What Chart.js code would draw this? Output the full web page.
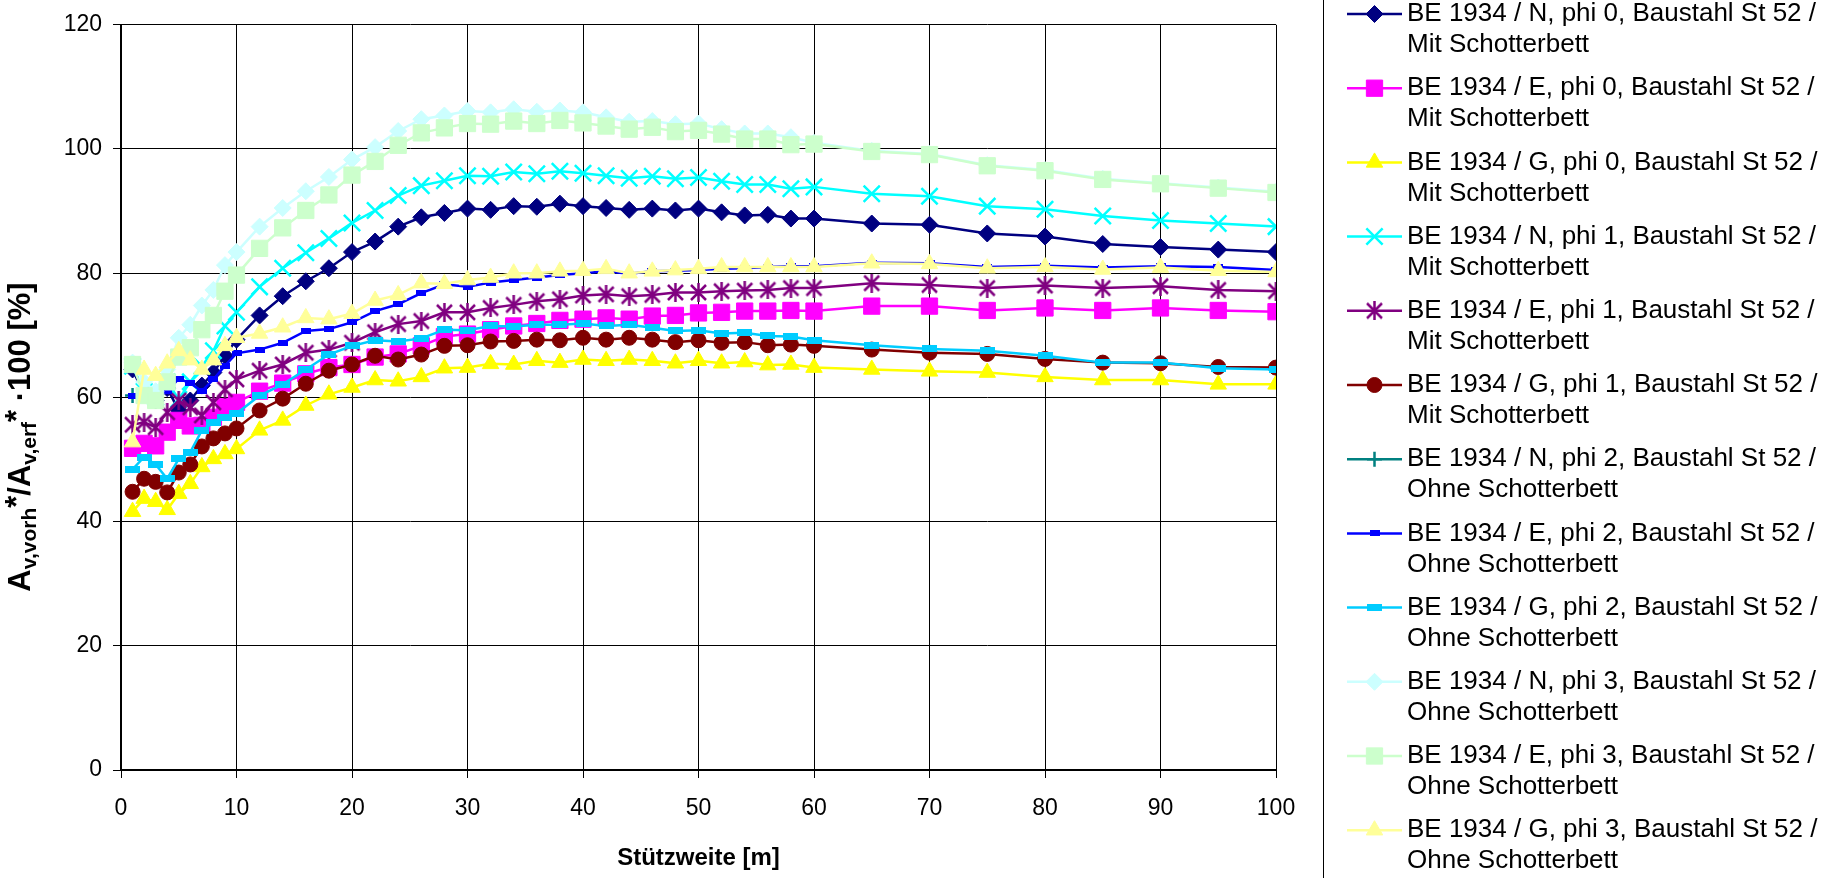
<!DOCTYPE html>
<html>
<head>
<meta charset="utf-8">
<title>BE 1934 - Baustahl St 52</title>
<script src="https://cdn.jsdelivr.net/npm/chart.js@4.4.1/dist/chart.umd.min.js"></script>
<style>
    html, body { margin: 0; padding: 0; background: #ffffff; }
    canvas { display: block; }
</style>
</head>
<body>
<canvas id="myChart" width="1841" height="878"></canvas>
<script>
/** Stützweite [m] */
var spans = [1, 2, 3, 4, 5, 6, 7, 8, 9, 10, 12, 14, 16, 18, 20, 22, 24, 26, 28, 30, 32, 34, 36, 38, 40, 42, 44, 46, 48, 50, 52, 54, 56, 58, 60, 65, 70, 75, 80, 85, 90, 95, 100];

/** values in % per series */
var nPhi0 = [64.5, 60.5, 59.5, 61.5, 57.9, 59.5, 61.9, 64.0, 66.7, 69.3, 73.2, 76.3, 78.7, 80.8, 83.4, 85.1, 87.5, 89.0, 89.7, 90.4, 90.2, 90.8, 90.7, 91.2, 90.8, 90.5, 90.2, 90.4, 90.1, 90.4, 89.8, 89.3, 89.4, 88.8, 88.8, 88.0, 87.8, 86.4, 85.9, 84.7, 84.2, 83.8, 83.4];
var ePhi0 = [51.8, 52.6, 52.2, 54.4, 56.3, 55.4, 55.5, 56.8, 58.5, 59.2, 61.0, 62.3, 63.8, 64.8, 65.3, 66.5, 67.0, 68.3, 69.8, 70.2, 70.9, 71.5, 71.9, 72.4, 72.6, 72.8, 72.6, 73.1, 73.2, 73.6, 73.7, 73.9, 73.9, 74.0, 73.9, 74.7, 74.7, 74.0, 74.4, 74.0, 74.4, 74.0, 73.8];
var gPhi0 = [41.6, 43.7, 43.2, 41.9, 44.5, 46.1, 48.8, 50.1, 50.9, 51.7, 54.7, 56.3, 58.7, 60.5, 61.6, 62.8, 62.6, 63.3, 64.7, 64.8, 65.4, 65.3, 65.9, 65.6, 66.1, 65.9, 66.1, 65.9, 65.5, 65.9, 65.5, 65.7, 65.2, 65.3, 64.8, 64.5, 64.2, 64.0, 63.3, 62.8, 62.8, 62.1, 62.1];
var nPhi1 = [65.0, 61.0, 60.0, 62.5, 59.7, 62.5, 65.0, 67.5, 71.5, 73.7, 77.8, 80.8, 83.3, 85.6, 88.1, 90.1, 92.5, 94.1, 94.9, 95.7, 95.6, 96.3, 96.0, 96.4, 96.1, 95.7, 95.3, 95.6, 95.2, 95.4, 94.8, 94.3, 94.3, 93.6, 93.9, 92.8, 92.4, 90.8, 90.3, 89.2, 88.5, 88.0, 87.5];
var ePhi1 = [55.6, 56.0, 55.2, 57.6, 59.5, 58.4, 57.1, 59.2, 61.3, 62.9, 64.3, 65.3, 67.2, 67.7, 68.8, 70.5, 71.8, 72.3, 73.7, 73.7, 74.4, 74.9, 75.5, 75.8, 76.4, 76.6, 76.3, 76.5, 76.9, 76.9, 77.1, 77.2, 77.3, 77.6, 77.6, 78.4, 78.1, 77.6, 78.0, 77.6, 77.9, 77.3, 77.1];
var gPhi1 = [44.8, 46.9, 46.4, 44.7, 47.9, 49.2, 52.1, 53.4, 54.2, 55.0, 57.9, 59.8, 62.2, 64.3, 65.3, 66.7, 66.1, 66.9, 68.3, 68.4, 69.0, 69.1, 69.3, 69.2, 69.6, 69.3, 69.6, 69.3, 68.9, 69.2, 68.8, 68.9, 68.4, 68.5, 68.3, 67.7, 67.2, 67.0, 66.2, 65.6, 65.5, 64.9, 64.8];
var nPhi2 = [60.3];
var ePhi2 = [60.3, 60.3, 59.8, 61.0, 63.0, 62.3, 61.0, 62.9, 65.1, 67.1, 67.7, 68.8, 70.7, 71.0, 72.1, 73.9, 75.0, 76.8, 78.2, 77.8, 78.5, 78.9, 79.3, 79.7, 80.0, 80.3, 79.9, 80.3, 80.4, 80.5, 80.7, 80.8, 81.0, 81.1, 81.1, 81.7, 81.6, 81.0, 81.2, 80.9, 81.1, 81.0, 80.5];
var gPhi2 = [48.4, 50.4, 49.2, 46.9, 50.1, 51.2, 54.7, 55.9, 56.7, 57.4, 60.3, 62.1, 64.5, 66.9, 68.3, 69.2, 69.0, 69.5, 70.9, 70.8, 71.5, 71.4, 71.7, 71.7, 71.9, 71.5, 71.7, 71.2, 70.7, 70.8, 70.3, 70.4, 69.9, 69.8, 69.2, 68.4, 67.8, 67.5, 66.7, 65.6, 65.6, 64.7, 64.5];
var nPhi3 = [65.6, 62.5, 61.0, 64.5, 69.6, 71.7, 74.8, 77.3, 81.3, 83.4, 87.5, 90.5, 93.2, 95.5, 98.3, 100.3, 102.9, 104.8, 105.4, 106.1, 105.9, 106.4, 106.0, 106.2, 105.9, 105.1, 104.4, 104.5, 104.0, 104.1, 103.2, 102.5, 102.5, 101.9, 101.0, 99.7, 99.2, 97.4, 96.6, 95.2, 94.5, 93.8, 93.1];
var ePhi3 = [65.3, 60.3, 59.5, 62.5, 66.5, 68.0, 70.9, 73.2, 77.1, 79.7, 84.0, 87.3, 90.1, 92.6, 95.8, 98.0, 100.6, 102.6, 103.4, 104.1, 104.0, 104.5, 104.1, 104.6, 104.2, 103.7, 103.2, 103.5, 102.8, 103.0, 102.4, 101.6, 101.6, 100.7, 100.8, 99.6, 99.1, 97.3, 96.5, 95.1, 94.4, 93.7, 93.0];
var gPhi3 = [52.8, 64.5, 63.5, 65.5, 67.5, 66.0, 64.5, 66.0, 68.3, 69.6, 70.3, 71.3, 72.8, 72.6, 73.5, 75.6, 76.5, 78.4, 78.3, 78.9, 79.3, 80.0, 80.0, 80.3, 80.4, 80.7, 80.0, 80.3, 80.5, 80.7, 81.0, 81.0, 81.0, 81.0, 81.0, 81.6, 81.5, 80.8, 81.0, 80.6, 80.9, 80.4, 80.2];

var seriesNames = [
    "BE 1934 / N, phi 0, Baustahl St 52 / Mit Schotterbett",
    "BE 1934 / E, phi 0, Baustahl St 52 / Mit Schotterbett",
    "BE 1934 / G, phi 0, Baustahl St 52 / Mit Schotterbett",
    "BE 1934 / N, phi 1, Baustahl St 52 / Mit Schotterbett",
    "BE 1934 / E, phi 1, Baustahl St 52 / Mit Schotterbett",
    "BE 1934 / G, phi 1, Baustahl St 52 / Mit Schotterbett",
    "BE 1934 / N, phi 2, Baustahl St 52 / Ohne Schotterbett",
    "BE 1934 / E, phi 2, Baustahl St 52 / Ohne Schotterbett",
    "BE 1934 / G, phi 2, Baustahl St 52 / Ohne Schotterbett",
    "BE 1934 / N, phi 3, Baustahl St 52 / Ohne Schotterbett",
    "BE 1934 / E, phi 3, Baustahl St 52 / Ohne Schotterbett",
    "BE 1934 / G, phi 3, Baustahl St 52 / Ohne Schotterbett"
];
var seriesValues = [nPhi0, ePhi0, gPhi0, nPhi1, ePhi1, gPhi1, nPhi2, ePhi2, gPhi2, nPhi3, ePhi3, gPhi3];

var xTicks = [0, 10, 20, 30, 40, 50, 60, 70, 80, 90, 100];
var yTicks = [0, 20, 40, 60, 80, 100, 120];

var FONT = "'Liberation Sans', Arial, sans-serif";

// small canvases for markers chart.js does not have
function starMarker(color) {
    var c = document.createElement("canvas");
    c.width = 19;
    c.height = 19;
    var g = c.getContext("2d");
    g.strokeStyle = color;
    g.lineWidth = 2.5;
    g.beginPath();
    g.moveTo(2, 2);
    g.lineTo(17, 17);
    g.moveTo(17, 2);
    g.lineTo(2, 17);
    g.moveTo(9.5, 0);
    g.lineTo(9.5, 19);
    g.stroke();
    return c;
}
function barMarker(color, w, h) {
    var c = document.createElement("canvas");
    c.width = w;
    c.height = h;
    var g = c.getContext("2d");
    g.fillStyle = color;
    g.fillRect(0, 0, w, h);
    return c;
}

var markers = [
    { color: "#000080", style: "rectRot", r: 8.5, bw: 1 },
    { color: "#FF00FF", style: "rect", r: 11.5, bw: 1 },
    { color: "#FFFF00", style: "triangle", r: 9.5, bw: 1 },
    { color: "#00FFFF", style: "crossRot", r: 11.5, bw: 2.5 },
    { color: "#800080", style: starMarker("#800080"), r: 9, bw: 1 },
    { color: "#800000", style: "circle", r: 7.5, bw: 1 },
    { color: "#008080", style: "cross", r: 7.5, bw: 2.5 },
    { color: "#0000FF", style: barMarker("#0000FF", 10, 6), r: 5, bw: 1 },
    { color: "#00CCFF", style: barMarker("#00CCFF", 15, 7), r: 7, bw: 1 },
    { color: "#CCFFFF", style: "rectRot", r: 8.5, bw: 1 },
    { color: "#CCFFCC", style: "rect", r: 11.5, bw: 1 },
    { color: "#FFFF99", style: "triangle", r: 9.5, bw: 1 }
];

var $each = function (arr, fn) { for (var i = 0; i < arr.length; i++) fn(i, arr[i]); };

var datasets = [];
$each(seriesValues, function (k, vals) {
    var pts = [];
    $each(spans, function (i, x) {
        if (vals[i] !== undefined && vals[i] !== null) pts.push({ x: x, y: vals[i] });
    });
    var m = markers[k];
    datasets.push({
        label: seriesNames[k],
        data: pts,
        borderColor: m.color,
        backgroundColor: m.color,
        borderWidth: 2.5,
        pointStyle: m.style,
        pointRadius: m.r,
        pointBorderWidth: m.bw,
        pointBorderColor: m.color,
        pointBackgroundColor: m.color,
        tension: 0,
        order: seriesValues.length - k // later series on top, like excel
    });
});

/** y axis title with sub- and superscripts */
function drawYTitle(ctx) {
    var F = 31, S = 21;
    var parts = [
        ["A", F, 0], ["v,vorh", S, 6], ["*", F, -3],
        ["/A", F, 0], ["v,erf", S, 6], ["*", F, -3],
        [" \u00b7100 [%]", F, 0]
    ];
    var total = 0;
    $each(parts, function (i, p) {
        ctx.font = "bold " + p[1] + "px " + FONT;
        p.push(ctx.measureText(p[0]).width);
        total += p[3];
    });
    ctx.save();
    ctx.translate(30, 437);
    ctx.rotate(-Math.PI / 2);
    ctx.fillStyle = "#000";
    ctx.textBaseline = "alphabetic";
    var x = -total / 2;
    $each(parts, function (i, p) {
        ctx.font = "bold " + p[1] + "px " + FONT;
        ctx.fillText(p[0], x, p[2]);
        x += p[3];
    });
    ctx.restore();
}

/** legend on the right side, two lines per entry */
var sideLegend = {
    id: "sideLegend",
    afterDraw: function (chart) {
        var ctx = chart.ctx;
        ctx.save();
        ctx.strokeStyle = "#000";
        ctx.lineWidth = 1;
        ctx.beginPath();
        ctx.moveTo(1323.5, 0);
        ctx.lineTo(1323.5, 878);
        ctx.stroke();

        ctx.font = "26px " + FONT;
        ctx.textBaseline = "middle";
        $each(seriesNames, function (i, name) {
            var y = 14 + i * 74.2;
            var m = markers[i];
            ctx.strokeStyle = m.color;
            ctx.lineWidth = 2.5;
            ctx.beginPath();
            ctx.moveTo(1347, y);
            ctx.lineTo(1402, y);
            ctx.stroke();
            ctx.fillStyle = m.color;
            ctx.lineWidth = m.bw;
            Chart.helpers.drawPoint(ctx, { pointStyle: m.style, radius: m.r, rotation: 0, borderWidth: m.bw }, 1374.5, y);
            var cut = name.lastIndexOf(" / ");
            ctx.fillStyle = "#000";
            ctx.fillText(name.substring(0, cut + 2), 1407, y);
            ctx.fillText(name.substring(cut + 3), 1407, y + 31);
        });
        ctx.restore();
        drawYTitle(ctx);
    }
};

var ctx = document.getElementById("myChart");
var myChart = new Chart(ctx, {
    type: "line",
    data: { datasets: datasets },
    plugins: [sideLegend],
    options: {
        responsive: false,
        animation: false,
        devicePixelRatio: 1,
        layout: { padding: { top: 20, right: 565, bottom: 0, left: 0 } },
        plugins: { legend: { display: false }, tooltip: { enabled: false } },
        scales: {
            x: {
                type: "linear",
                min: 0,
                max: 100,
                afterBuildTicks: function (s) { s.ticks = xTicks.map(function (v) { return { value: v }; }); },
                afterFit: function (s) { s.height = 108; },
                ticks: { color: "#000", font: { family: FONT, size: 23 }, padding: 17, maxRotation: 0 },
                grid: { color: "#000", lineWidth: 1, tickLength: 8 },
                border: { color: "#000", width: 2 },
                title: { display: true, text: "Stützweite [m]", color: "#000", font: { family: FONT, size: 24, weight: "bold" }, padding: { top: 0, bottom: 5 } }
            },
            y: {
                min: 0,
                max: 120,
                afterBuildTicks: function (s) { s.ticks = yTicks.map(function (v) { return { value: v }; }); },
                afterFit: function (s) { s.width = 121; },
                ticks: { color: "#000", font: { family: FONT, size: 23 }, padding: 11 },
                grid: { color: "#000", lineWidth: 1, tickLength: 8 },
                border: { color: "#000", width: 2 }
            }
        }
    }
});
</script>
</body>
</html>
